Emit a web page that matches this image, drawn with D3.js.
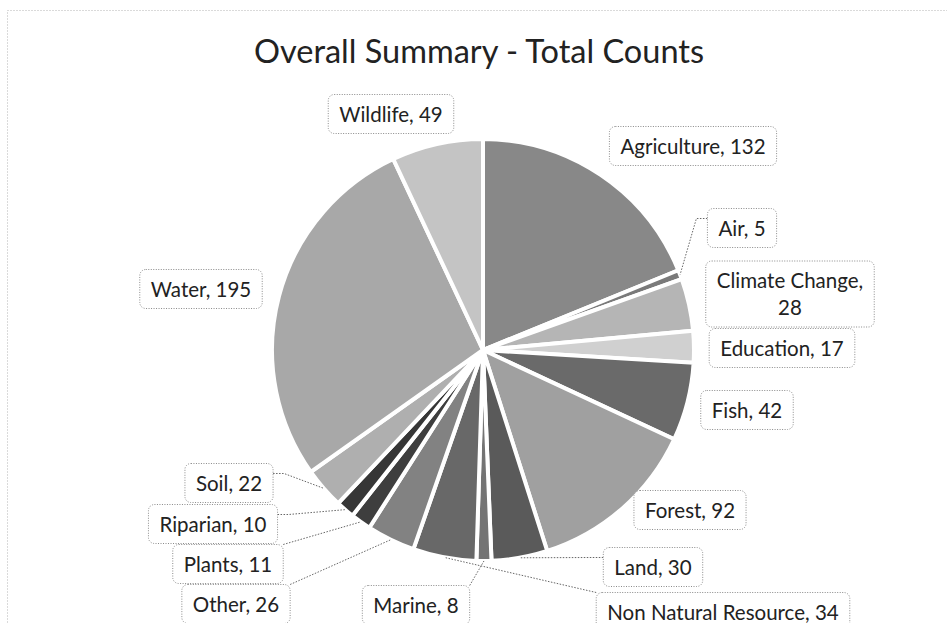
<!DOCTYPE html>
<html>
<head>
<meta charset="utf-8">
<script src="https://cdn.jsdelivr.net/npm/d3@7"></script>
<style>
  html, body { margin: 0; padding: 0; background: #fff; }
  svg { display: block; }
</style>
</head>
<body>
<svg id="chart" width="947" height="623"></svg>
<script>
// data, clockwise from 12 o'clock (alphabetical, as in the source sheet)
const categories = ["Agriculture", "Air", "Climate Change", "Education", "Fish", "Forest", "Land",
  "Marine", "Non Natural Resource", "Other", "Plants", "Riparian", "Soil", "Water", "Wildlife"];
const counts = [132, 5, 28, 17, 42, 92, 30, 8, 34, 26, 11, 10, 22, 195, 49];
const title = "Overall Summary - Total Counts";

// styles: scanned grey tones per slice
const shades = ["#888888", "#7a7a7a", "#b5b5b5", "#d0d0d0", "#6a6a6a", "#a0a0a0", "#5a5a5a",
  "#747474", "#686868", "#828282", "#3e3e3e", "#363636", "#afafaf", "#a8a8a8", "#c4c4c4"];

// label box centres (Excel placed them by hand-ish)
const labelAt = {
  "Wildlife": [391, 114], "Agriculture": [693, 146], "Air": [742, 228],
  "Climate Change": [790, 294], "Education": [782, 348], "Fish": [747, 410],
  "Forest": [690, 510], "Land": [653, 567], "Non Natural Resource": [723, 612],
  "Marine": [416, 605], "Other": [236, 604], "Plants": [228, 564],
  "Riparian": [213, 524], "Soil": [229, 483], "Water": [201, 289]
};
const wrapped = { "Climate Change": ["Climate Change,", "28"] };

const svg = d3.select("#chart");
const FONT = "Lato, 'Open Sans', sans-serif";
const CX = 483, CY = 350, R = 211;

// chart-area frame (dotted, runs off the photo at right/bottom)
svg.append("rect").attr("x", 7.5).attr("y", 10.5).attr("width", 980).attr("height", 700)
  .attr("fill", "none").attr("stroke", "#b5b5b5").attr("stroke-dasharray", "1,2");

svg.append("text").attr("x", CX - 4).attr("y", 63).attr("text-anchor", "middle")
  .attr("font-family", FONT).attr("font-size", 32.5).attr("fill", "#222").text(title);

const rows = categories.map((c, i) => ({ name: c, count: counts[i], shade: shades[i] }));
const arcs = d3.pie().sort(null).value((d) => d.count)(rows);
const arc = d3.arc().innerRadius(0).outerRadius(R);

const g = svg.append("g").attr("transform", `translate(${CX},${CY})`);
g.selectAll("path").data(arcs).join("path")
  .attr("d", arc).attr("fill", (d) => d.data.shade)
  .attr("stroke", "#fff").attr("stroke-width", 4).attr("stroke-linejoin", "miter");

// labels + leaders
const lab = svg.append("g");
arcs.forEach((a) => {
  const name = a.data.name;
  const lines = wrapped[name] || [`${name}, ${a.data.count}`];
  const [lx, ly] = labelAt[name];
  const lineH = 27;
  const tg = lab.append("g");
  const box = tg.append("rect");
  const txt = tg.append("text").attr("text-anchor", "middle").attr("font-family", FONT)
    .attr("font-size", 20.5).attr("fill", "#222");
  lines.forEach((s, k) => {
    txt.append("tspan").attr("x", lx)
      .attr("y", ly + (k - (lines.length - 1) / 2) * lineH + 7.5).text(s);
  });
  const bb = txt.node().getBBox();
  const w = bb.width + 22, h = lines.length * lineH + 12;
  const bx = lx - w / 2, by = ly - h / 2;
  box.attr("x", bx).attr("y", by).attr("width", w).attr("height", h).attr("rx", 6)
    .attr("fill", "#fff").attr("stroke", "#8a8a8a").attr("stroke-width", 1)
    .attr("stroke-dasharray", "1,1.5");

  // leader line to the slice rim at mid angle
  const mid = (a.startAngle + a.endAngle) / 2;
  const ax = CX + R * Math.sin(mid), ay = CY - R * Math.cos(mid);
  const dx = Math.max(bx - ax, 0, ax - (bx + w)), dy = Math.max(by - ay, 0, ay - (by + h));
  if (Math.hypot(dx, dy) < 25) return;
  let d;
  if (ay < by) {
    const cx = ax < lx ? bx : bx + w;
    d = `M${cx},${by}L${ax},${ay}`;
  } else {
    const sx = ax < bx ? bx : bx + w, sy = by + 10;
    const stub = ax < bx ? sx - 11 : sx + 11;
    d = `M${sx},${sy}H${stub}L${ax},${ay}`;
  }
  lab.insert("path", ":first-child").attr("d", d).attr("fill", "none")
    .attr("stroke", "#666").attr("stroke-width", 1).attr("stroke-dasharray", "1.5,1.5");
});
</script>
</body>
</html>
